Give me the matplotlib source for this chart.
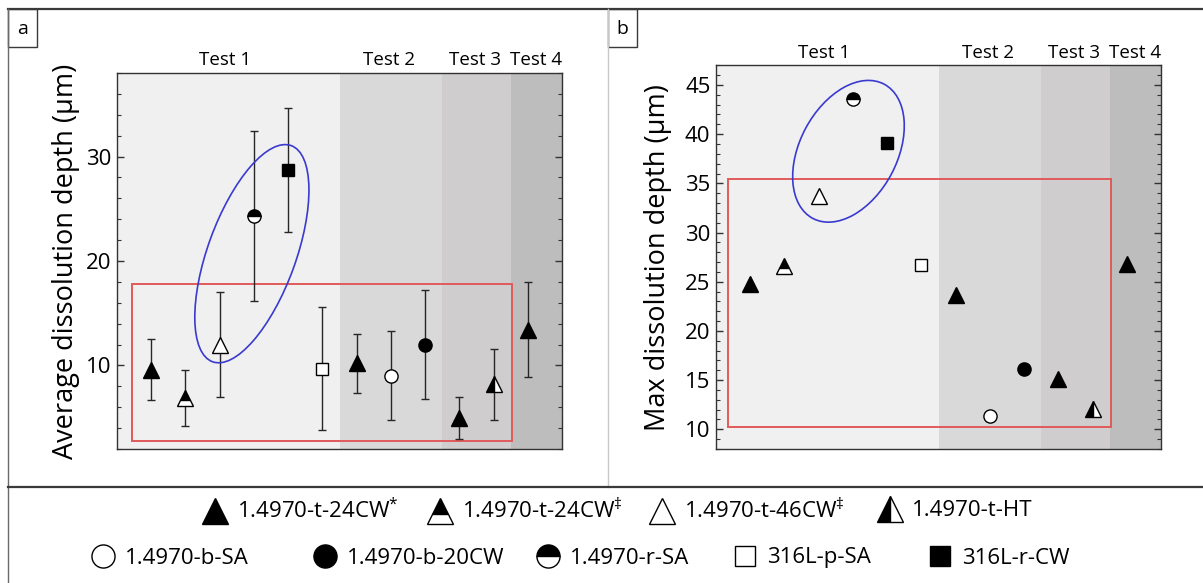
import matplotlib
matplotlib.use('Agg')
import matplotlib.pyplot as plt
from matplotlib.patches import Rectangle, Ellipse
from matplotlib.lines import Line2D
from matplotlib.transforms import ScaledTranslation, blended_transform_factory
from matplotlib.ticker import MultipleLocator

plt.rcParams['font.family'] = ['Open Sans', 'DejaVu Sans']
plt.rcParams['mathtext.fontset'] = 'custom'
plt.rcParams['mathtext.rm'] = 'Open Sans'
plt.rcParams['mathtext.it'] = 'Open Sans'

# ---------------- data ----------------
series_labels = ['1.4970-t-24CW$^{*}$', '1.4970-t-24CW$^{\\ddag}$', '1.4970-t-46CW$^{\\ddag}$',
                 '1.4970-t-HT', '1.4970-b-SA', '1.4970-b-20CW', '1.4970-r-SA',
                 '316L-p-SA', '316L-r-CW']
positions = [1, 2, 3, 4, 5, 6, 7, 8, 9, 10, 11, 12]
point_series = [0, 1, 2, 6, 8, 7, 0, 4, 5, 0, 3, 0]
avg_depth = [9.6, 6.9, 12.0, 24.3, 28.7, 9.7, 10.2, 9.0, 12.0, 4.95, 8.2, 13.4]
avg_err = [2.95, 2.7, 5.0, 8.1, 5.95, 5.85, 2.85, 4.27, 5.2, 2.0, 3.4, 4.55]
max_depth = [24.8, 26.6, 33.7, 43.55, 39.1, 26.7, 23.7, 11.4, 16.1, 15.1, 12.1, 26.85]

test_names = ['Test 1', 'Test 2', 'Test 3', 'Test 4']
test_edges = [0, 6.5, 9.5, 11.5, 13]
test_label_x = [3.15, 7.95, 10.45, 12.25]
test_colors = ['#f0f0f0', '#d9d9d9', '#cfcdcd', '#bdbdbd']

# marker styles per series: (marker, facecolor, fillstyle, size)
series_style = [
    ('^', 'black', 'full', 11),
    ('^', 'black', 'top', 11),
    ('^', 'white', 'full', 11),
    ('^', 'black', 'left', 11),
    ('o', 'white', 'full', 9.5),
    ('o', 'black', 'full', 9.5),
    ('o', 'black', 'top', 9.5),
    ('s', 'white', 'full', 8.6),
    ('s', 'black', 'full', 8.6),
]

W, H = 1203, 583
fig = plt.figure(figsize=(W / 100, H / 100), dpi=100)
fig.patch.set_facecolor('white')

def fx(px):
    return px / W

def fy(py):
    return 1 - py / H

# axes positions (pixels)
ax_a = fig.add_axes([fx(117), fy(449), 445 / W, (449 - 73) / H])
ax_b = fig.add_axes([fx(716), fy(449), 445 / W, (449 - 65.3) / H])


def setup(ax, ylim, major, minor, ylabel, label_x, tlab_y):
    ax.set_xlim(test_edges[0], test_edges[-1])
    ax.set_ylim(*ylim)
    for i in range(4):
        ax.axvspan(test_edges[i], test_edges[i + 1], color=test_colors[i], lw=0, zorder=0)
    trans = blended_transform_factory(ax.transData, ax.transAxes)
    for name, xc in zip(test_names, test_label_x):
        ax.text(xc, tlab_y, name, transform=trans, ha='center', va='center', fontsize=13.5)
    ax.set_xticks([])
    ax.yaxis.set_major_locator(MultipleLocator(major))
    ax.yaxis.set_minor_locator(MultipleLocator(minor))
    ax.tick_params(axis='y', which='both', direction='in', left=True, right=True,
                   labelsize=16, color='#333333', pad=4)
    ax.tick_params(axis='y', which='major', length=5, width=1)
    ax.tick_params(axis='y', which='minor', length=3, width=0.8)
    for sp in ax.spines.values():
        sp.set_color('#333333')
        sp.set_linewidth(1)
    ax.set_ylabel(ylabel, fontsize=19.5)
    ax.yaxis.set_label_coords(label_x, 0.5)


setup(ax_a, (2, 38), 10, 2, 'Average dissolution depth (\u03bcm)', -0.083, 1.035)
setup(ax_b, (8, 47), 5, 1, 'Max dissolution depth (\u03bcm)', -0.098, 1.031)

# error bars (panel a)
ax_a.errorbar(positions, avg_depth, yerr=avg_err, fmt='none', ecolor='#262626',
              elinewidth=1, capsize=3, capthick=1, zorder=3)

for ax, vals in ((ax_a, avg_depth), (ax_b, max_depth)):
    for xv, yv, s in zip(positions, vals, point_series):
        m, fc, fs, ms = series_style[s]
        ax.plot([xv], [yv], linestyle='none', marker=m, markersize=ms,
                markerfacecolor=fc, markerfacecoloralt='white', fillstyle=fs,
                markeredgecolor='black', markeredgewidth=1, zorder=4)

# red rectangles
ax_a.add_patch(Rectangle((0.43, 2.75), 11.55 - 0.43, 17.8 - 2.75, fill=False,
                         edgecolor='#e05a5a', lw=1.4, zorder=2))
ax_b.add_patch(Rectangle((0.35, 10.24), 11.53 - 0.35, 35.4 - 10.24, fill=False,
                         edgecolor='#e05a5a', lw=1.4, zorder=2))

# blue ellipses (size in pixels, centre in data)
def add_ellipse(ax, cx, cy, a_px, b_px, ang):
    tr = fig.dpi_scale_trans + ScaledTranslation(cx, cy, ax.transData)
    e = Ellipse((0, 0), 2 * a_px / 100, 2 * b_px / 100, angle=ang, transform=tr,
                fill=False, edgecolor='#3a3ad0', lw=1.2, zorder=5)
    ax.add_artist(e)

add_ellipse(ax_a, 3.94, 20.7, 115, 44, 70)
add_ellipse(ax_b, 3.87, 38.26, 76, 48.6, 62)

# frame lines
def fline(x0, y0, x1, y1, color, lw):
    fig.add_artist(Line2D([fx(x0), fx(x1)], [fy(y0), fy(y1)], transform=fig.transFigure,
                          color=color, lw=lw))

fline(8, 9, W, 9, '#3a3a3a', 1.6)
fline(8, 9, 8, H, '#6a6a6a', 1.0)
fline(608, 9, 608, 487, '#c8c8c8', 1.0)
fline(8, 487, W, 487, '#3a3a3a', 1.6)

for (x0, lab) in ((8, 'a'), (608, 'b')):
    fig.add_artist(Rectangle((fx(x0), fy(47)), 29 / W, 38 / H, transform=fig.transFigure,
                             fill=False, edgecolor='#3a3a3a', lw=1.0))
    fig.text(fx(x0 + 14.5), fy(29), lab, ha='center', va='center', fontsize=14)

# legend entries
leg_fs = 16
hl = 1.2
hl_px = hl * leg_fs * 100 / 72
legend_rows = [
    ([0, 1, 2, 3], [215, 440, 662, 890], 511),
    ([4, 5, 6, 7, 8], [103, 325, 548, 745, 940], 558),
]
for idxs, xs, yrow in legend_rows:
    for s, mx in zip(idxs, xs):
        m, fc, fs, ms = series_style[s]
        h = Line2D([], [], linestyle='none', marker=m, markersize=ms * 1.75,
                   markerfacecolor=fc, markerfacecoloralt='white', fillstyle=fs,
                   markeredgecolor='black', markeredgewidth=1)
        fig.legend(handles=[h], labels=[series_labels[s]], loc='center left',
                   bbox_to_anchor=(fx(mx - hl_px / 2), fy(yrow)), frameon=False,
                   fontsize=leg_fs, handlelength=hl, handletextpad=0.4,
                   borderpad=0, borderaxespad=0)

fig.savefig('out.png', dpi=100)
